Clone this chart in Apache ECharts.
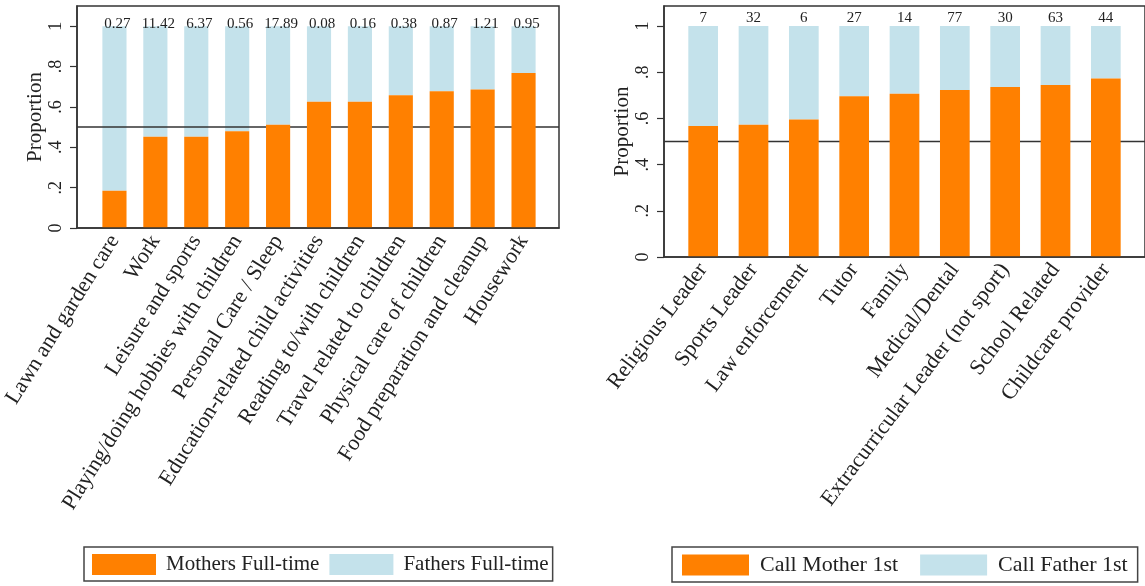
<!DOCTYPE html>
<html>
<head>
<meta charset="utf-8">
<script src="https://cdn.jsdelivr.net/npm/echarts@6/dist/echarts.min.js"></script>
<style>
  html, body { margin: 0; padding: 0; background: #fff; }
  #chart { width: 1145px; height: 586px; }
</style>
</head>
<body>
<div id="chart"></div>
<script>
// left panel: time use shares
const leftCategories = [
  "Lawn and garden care", "Work", "Leisure and sports",
  "Playing/doing hobbies with children", "Personal Care / Sleep",
  "Education-related child activities", "Reading to/with children",
  "Travel related to children", "Physical care of children",
  "Food preparation and cleanup", "Housework"
];
const mothersFullTime = [0.184, 0.452, 0.452, 0.480, 0.512, 0.625, 0.625, 0.658, 0.678, 0.686, 0.768];
const fathersFullTime = [0.816, 0.548, 0.548, 0.520, 0.488, 0.375, 0.375, 0.342, 0.322, 0.314, 0.232];
const leftTopLabels = ["0.27", "11.42", "6.37", "0.56", "17.89", "0.08", "0.16", "0.38", "0.87", "1.21", "0.95"];

// right panel: who gets called first
const rightCategories = [
  "Religious Leader", "Sports Leader", "Law enforcement", "Tutor", "Family",
  "Medical/Dental", "Extracurricular Leader (not sport)", "School Related",
  "Childcare provider"
];
const callMotherFirst = [0.567, 0.573, 0.596, 0.696, 0.707, 0.723, 0.736, 0.745, 0.773];
const callFatherFirst = [0.433, 0.427, 0.404, 0.304, 0.293, 0.277, 0.264, 0.255, 0.227];
const rightTopLabels = ["7", "32", "6", "27", "14", "77", "30", "63", "44"];

const yTicks = [0, 0.2, 0.4, 0.6, 0.8, 1];
const refLine = 0.5;

const ORANGE = "#ff8000";
const LIGHTBLUE = "#c4e2eb";
const INK = "#222";
const SERIF = "Liberation Serif";

function tickText(v) {
  if (v === 0) return "0";
  if (v === 1) return "1";
  return String(+v.toFixed(1)).replace("0.", ".");
}

function frameY(gridIndex, max) {
  return {
    type: "value", gridIndex: gridIndex, min: 0, max: max,
    name: "Proportion", nameLocation: "middle", nameRotate: 90, nameGap: 21,
    nameTextStyle: { fontFamily: SERIF, fontSize: 21, color: INK },
    axisLine: { show: true, lineStyle: { color: "#333", width: 1.5 } },
    axisTick: { show: true, inside: false, length: 7, customValues: yTicks, lineStyle: { color: "#333", width: 1.2 } },
    axisLabel: {
      rotate: 90, margin: 12, customValues: yTicks, formatter: tickText,
      fontFamily: SERIF, fontSize: 18, color: INK
    },
    splitLine: { show: false },
    z: 10
  };
}

function frameX(gridIndex) {
  return {
    type: "value", gridIndex: gridIndex, min: 0, max: 1,
    axisLine: { show: true, lineStyle: { color: "#333", width: 1.5 } },
    axisTick: { show: false }, axisLabel: { show: false }, splitLine: { show: false },
    z: 10
  };
}

function barX(gridIndex, cats, rot) {
  return {
    type: "category", gridIndex: gridIndex, data: cats,
    axisLine: { show: false }, axisTick: { show: false },
    axisLabel: {
      rotate: rot, margin: 9, interval: 0,
      fontFamily: SERIF, fontSize: 22, color: INK
    }
  };
}

function barY(gridIndex, max) {
  return { type: "value", gridIndex: gridIndex, min: 0, max: max, show: false };
}

function refSeries(idx) {
  return {
    type: "line", xAxisIndex: idx, yAxisIndex: idx,
    data: [[0, refLine], [1, refLine]],
    symbol: "none", silent: true, z: 2,
    lineStyle: { color: "#333", width: 1.5 }
  };
}

const chart = echarts.init(document.getElementById("chart"), null, { renderer: "canvas" });

chart.setOption({
  backgroundColor: "#fff",
  animation: false,
  grid: [
    { left: 77, top: 6, width: 482, height: 222, show: true, borderColor: "#333", borderWidth: 1.5 },
    { left: 94, top: 6, width: 450, height: 222 },
    { left: 664, top: 6, width: 481, height: 251, show: true, borderColor: "#333", borderWidth: 1.5 },
    { left: 678, top: 6, width: 453, height: 251 }
  ],
  xAxis: [
    frameX(0),
    barX(1, leftCategories, 58),
    frameX(2),
    barX(3, rightCategories, 53)
  ],
  yAxis: [
    frameY(0, 1.1),
    barY(1, 1.1),
    frameY(2, 1.087),
    barY(3, 1.087)
  ],
  legend: [
    {
      left: 84, top: 547, orient: "horizontal",
      data: ["Mothers Full-time", "Fathers Full-time"],
      icon: "rect", itemWidth: 64, itemHeight: 21, itemGap: 10,
      padding: [7, 4, 6, 8],
      borderColor: "#444", borderWidth: 1.5,
      textStyle: { fontFamily: SERIF, fontSize: 21, color: INK, padding: [0, 0, 0, 5] }
    },
    {
      left: 672, top: 547, orient: "horizontal",
      data: ["Call Mother 1st", "Call Father 1st"],
      icon: "rect", itemWidth: 67, itemHeight: 21, itemGap: 22,
      padding: [7, 10, 6, 10],
      borderColor: "#444", borderWidth: 1.5,
      textStyle: { fontFamily: SERIF, fontSize: 22, color: INK, padding: [0, 0, 0, 6] }
    }
  ],
  series: [
    {
      name: "Mothers Full-time", type: "bar", stack: "left",
      xAxisIndex: 1, yAxisIndex: 1, barWidth: "59%",
      data: mothersFullTime, itemStyle: { color: ORANGE }, z: 3
    },
    {
      name: "Fathers Full-time", type: "bar", stack: "left",
      xAxisIndex: 1, yAxisIndex: 1, barWidth: "59%",
      data: fathersFullTime, itemStyle: { color: LIGHTBLUE }, z: 1,
      label: {
        show: true, position: "top", distance: -5, offset: [3, 0],
        formatter: p => leftTopLabels[p.dataIndex],
        fontFamily: SERIF, fontSize: 15, color: INK
      }
    },
    refSeries(0),
    {
      name: "Call Mother 1st", type: "bar", stack: "right",
      xAxisIndex: 3, yAxisIndex: 3, barWidth: "59%",
      data: callMotherFirst, itemStyle: { color: ORANGE }, z: 3
    },
    {
      name: "Call Father 1st", type: "bar", stack: "right",
      xAxisIndex: 3, yAxisIndex: 3, barWidth: "59%",
      data: callFatherFirst, itemStyle: { color: LIGHTBLUE }, z: 1,
      label: {
        show: true, position: "top", distance: 1,
        formatter: p => rightTopLabels[p.dataIndex],
        fontFamily: SERIF, fontSize: 15, color: INK
      }
    },
    refSeries(2)
  ]
});

window.addEventListener("resize", () => chart.resize());
</script>
</body>
</html>
